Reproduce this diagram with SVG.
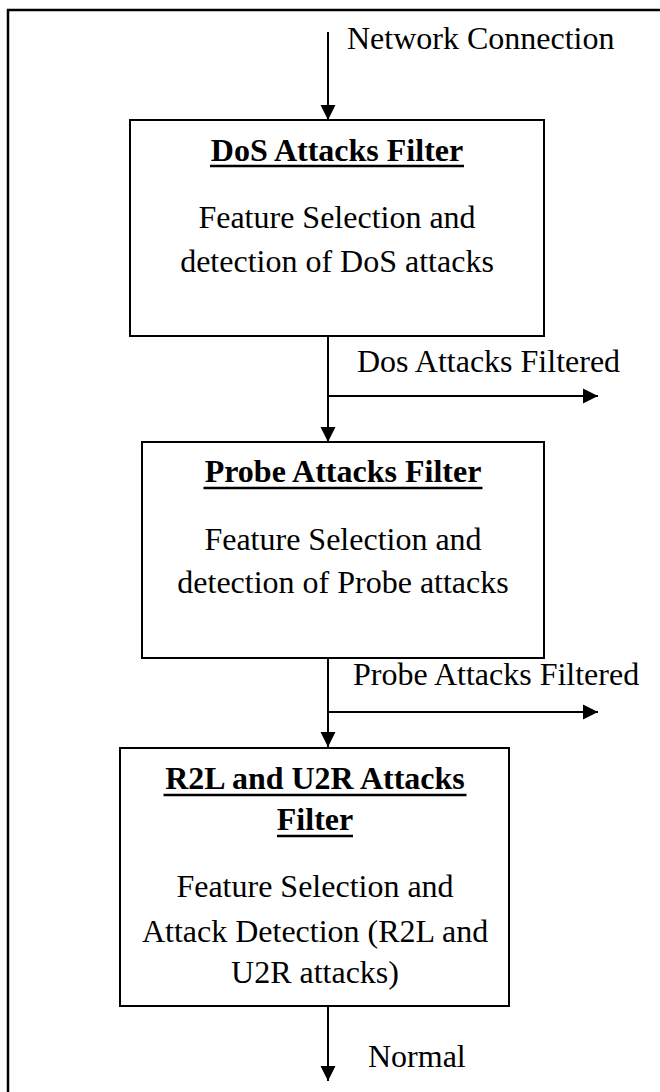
<svg xmlns="http://www.w3.org/2000/svg" width="660" height="1092" viewBox="0 0 660 1092">
<style>
.box{fill:#fff;stroke:#000;stroke-width:2}
.title{font-family:"Liberation Serif","Times New Roman",serif;font-weight:bold;font-size:32px;text-anchor:middle;fill:#000}
.body{font-family:"Liberation Serif","Times New Roman",serif;font-size:32px;text-anchor:middle;fill:#000}
.lbl{font-family:"Liberation Serif","Times New Roman",serif;font-size:32px;fill:#000}
.ul{stroke:#000;stroke-width:2.5}
.conn{stroke:#000;stroke-width:2;fill:none;marker-end:url(#ah)}
</style>
<defs>
<marker id="ah" markerUnits="userSpaceOnUse" markerWidth="16" markerHeight="16" viewBox="0 0 16 16" refX="15" refY="8" orient="auto">
<path d="M0,0.5 L15,8 L0,15.5 Z" fill="#000"/>
</marker>
</defs>
<rect x="0" y="0" width="660" height="1092" fill="#fff"/>
<rect x="8" y="10" width="720" height="1200" fill="none" stroke="#000" stroke-width="2.5"/>
<g id="dos">
<rect class="box" x="130" y="120" width="414" height="216"/>
<text class="title" x="337" y="161">DoS Attacks Filter</text>
<line class="ul" x1="210" y1="166" x2="464" y2="166"/>
<text class="body" x="337" y="228">Feature Selection and</text>
<text class="body" x="337" y="272">detection of DoS attacks</text>
</g>
<g id="probe">
<rect class="box" x="142" y="442" width="402" height="216"/>
<text class="title" x="343" y="482">Probe Attacks Filter</text>
<line class="ul" x1="203.5" y1="488" x2="482.5" y2="488"/>
<text class="body" x="343" y="550">Feature Selection and</text>
<text class="body" x="343" y="593">detection of Probe attacks</text>
</g>
<g id="r2l">
<rect class="box" x="120" y="748" width="389" height="258"/>
<text class="title" x="315" y="789">R2L and U2R Attacks</text>
<line class="ul" x1="163.5" y1="795" x2="466.5" y2="795"/>
<text class="title" x="315" y="830">Filter</text>
<line class="ul" x1="277" y1="836" x2="353" y2="836"/>
<text class="body" x="315" y="897">Feature Selection and</text>
<text class="body" x="315" y="942">Attack Detection (R2L and</text>
<text class="body" x="315" y="983">U2R attacks)</text>
</g>
<g id="connectors">
<line class="conn" x1="328" y1="32" x2="328" y2="120"/>
<line class="conn" x1="328" y1="336" x2="328" y2="442"/>
<line class="conn" x1="328" y1="396" x2="598" y2="396"/>
<line class="conn" x1="328" y1="658" x2="328" y2="747"/>
<line class="conn" x1="328" y1="712" x2="598" y2="712"/>
<line class="conn" x1="328" y1="1006" x2="328" y2="1081"/>
</g>
<g id="labels">
<text class="lbl" x="347" y="49">Network Connection</text>
<text class="lbl" x="357" y="372">Dos Attacks Filtered</text>
<text class="lbl" x="353" y="685">Probe Attacks Filtered</text>
<text class="lbl" x="368" y="1067">Normal</text>
</g>
</svg>
